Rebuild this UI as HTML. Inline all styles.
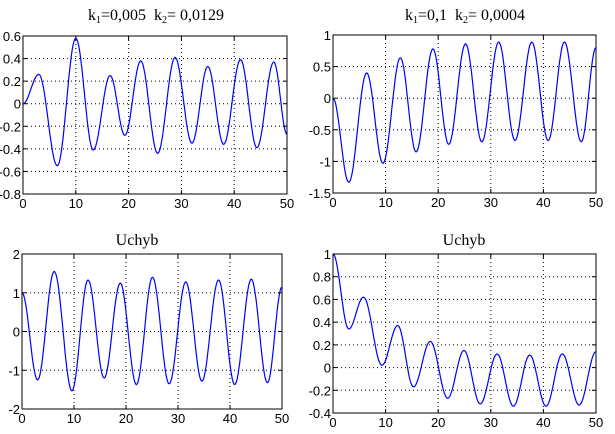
<!DOCTYPE html>
<html><head><meta charset="utf-8"><style>
html,body{margin:0;padding:0;background:#fff;width:615px;height:434px;overflow:hidden}
svg text{font-family:"Liberation Sans",sans-serif;font-size:13px;fill:#000}
svg text.t{font-family:"Liberation Serif",serif;font-size:16px;white-space:pre}
</style></head><body>
<svg id="s" width="615" height="434" xmlns="http://www.w3.org/2000/svg">
<text class="t" x="156" y="20" text-anchor="middle" xml:space="preserve">k<tspan font-size="10" dy="3">1</tspan><tspan dy="-3">=0,005  k</tspan><tspan font-size="10" dy="3">2</tspan><tspan dy="-3">= 0,0129</tspan></text>
<text class="t" x="465" y="20" text-anchor="middle" xml:space="preserve">k<tspan font-size="10" dy="3">1</tspan><tspan dy="-3">=0,1  k</tspan><tspan font-size="10" dy="3">2</tspan><tspan dy="-3">= 0,0004</tspan></text>
<text class="t" x="137" y="245" text-anchor="middle">Uchyb</text>
<text class="t" x="464" y="245" text-anchor="middle">Uchyb</text>
</svg>
<script>
var S=document.getElementById('s'),NS="http://www.w3.org/2000/svg";
function el(n,a){var e=document.createElementNS(NS,n);for(var k in a)e.setAttribute(k,a[k]);S.appendChild(e);return e;}
function plot(x0,x1,y0,y1,ymin,ymax,yt,ylab,ext){
 var X=function(v){return x0+(x1-x0)*v/50},Y=function(v){return y1-(y1-y0)*(v-ymin)/(ymax-ymin)};
 for(var i=1;i<5;i++){var xx=X(i*10);el('line',{x1:xx,x2:xx,y1:y0,y2:y1,stroke:'#000','stroke-dasharray':'1,3'});}
 yt.forEach(function(v,i){var yy=Y(v);if(i>0&&i<yt.length-1)el('line',{x1:x0,x2:x1,y1:yy,y2:yy,stroke:'#000','stroke-dasharray':'1,3'});
  el('line',{x1:x0,x2:x0+4,y1:yy,y2:yy,stroke:'#000'});el('line',{x1:x1-4,x2:x1,y1:yy,y2:yy,stroke:'#000'});
  var t=el('text',{x:x0-2,y:yy+5,'text-anchor':'end'});t.textContent=ylab[i];});
 for(var i=0;i<=5;i++){var xx=X(i*10);el('line',{x1:xx,x2:xx,y1:y1,y2:y1-4,stroke:'#000'});el('line',{x1:xx,x2:xx,y1:y0,y2:y0+4,stroke:'#000'});
  var t=el('text',{x:xx,y:y1+14,'text-anchor':'middle'});t.textContent=i*10;}
 var d='';for(var k=0;k<ext.length-1;k++){var a=ext[k],b=ext[k+1];for(var j=0;j<=20;j++){var f=j/20,x=a[0]+(b[0]-a[0])*f,y=a[1]+(b[1]-a[1])*(1-Math.cos(Math.PI*f))/2;d+=(d?'L':'M')+X(x).toFixed(1)+','+Y(y).toFixed(1);}}
 el('path',{d:d,fill:'none',stroke:'#0000ff','stroke-width':1.2});
 el('rect',{x:x0,y:y0,width:x1-x0,height:y1-y0,fill:'none',stroke:'#000'});
}
plot(23,287,36,194,-0.8,0.6,[0.6,0.4,0.2,0,-0.2,-0.4,-0.6,-0.8],['0.6','0.4','0.2','0','-0.2','-0.4','-0.6','-0.8'],
[[0,0],[3,0.26],[6.5,-0.55],[10,0.58],[13.3,-0.41],[16.5,0.25],[19.3,-0.28],[22.3,0.38],[25.5,-0.44],[28.8,0.41],[32,-0.35],[35,0.33],[38,-0.36],[41.2,0.39],[44.3,-0.39],[47.5,0.37],[50,-0.27]]);
plot(333,596,35,193,-1.5,1,[1,0.5,0,-0.5,-1,-1.5],['1','0.5','0','-0.5','-1','-1.5'],
[[0,0],[3,-1.33],[6.4,0.4],[9.5,-1.03],[12.8,0.64],[15.8,-0.85],[19,0.78],[22,-0.73],[25.2,0.86],[28.3,-0.69],[31.5,0.89],[34.6,-0.67],[37.8,0.89],[40.9,-0.67],[44,0.89],[47.2,-0.69],[50,0.8]]);
plot(22,282,254,409,-2,2,[2,1,0,-1,-2],['2','1','0','-1','-2'],
[[0,1],[3,-1.25],[6.2,1.55],[9.6,-1.53],[12.7,1.33],[15.8,-1.2],[18.9,1.25],[22,-1.37],[25.1,1.4],[28.3,-1.35],[31.5,1.28],[34.6,-1.28],[37.8,1.33],[40.9,-1.37],[44.1,1.35],[47.2,-1.32],[50,1.15]]);
plot(333,596,254,413,-0.4,1,[1,0.8,0.6,0.4,0.2,0,-0.2,-0.4],['1','0.8','0.6','0.4','0.2','0','-0.2','-0.4'],
[[0,1],[3,0.34],[5.8,0.62],[9.3,0.02],[12.3,0.37],[15.3,-0.17],[18.5,0.23],[21.8,-0.27],[24.9,0.15],[28,-0.32],[31.2,0.12],[34.3,-0.34],[37.4,0.11],[40.5,-0.34],[43.6,0.12],[46.8,-0.33],[50,0.14]]);
</script>
</body></html>
